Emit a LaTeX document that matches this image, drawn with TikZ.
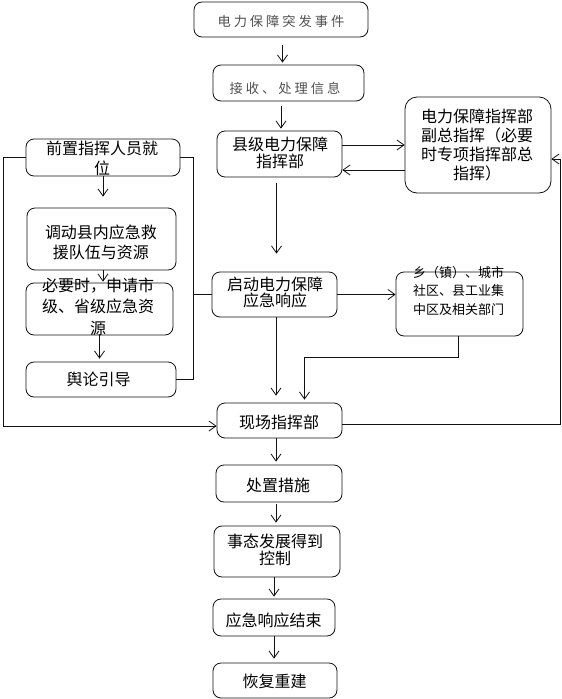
\documentclass[tikz,border=0pt]{standalone}
\usepackage{fontspec}
\setmainfont{Noto Sans CJK SC}
\newfontfamily\thinfont[LetterSpace=22]{Noto Sans CJK SC}
\usepackage{xcolor}
\usetikzlibrary{arrows.meta}
\definecolor{textgray}{HTML}{505050}
\definecolor{darkline}{HTML}{111111}

\begin{document}
\begin{tikzpicture}[x=1pt, y=-1pt,
  box/.style={draw=darkline, line width=0.8pt, rounded corners=8pt, inner sep=0pt},
  txt/.style={align=center, inner sep=0pt, font=\fontsize{16}{18}\selectfont},
  thin/.style={inner sep=0pt, text=textgray, font=\thinfont\fontsize{13.3}{15}\selectfont},
  arr/.style={draw=darkline, line width=0.8pt, -{Straight Barb[length=7pt,width=10pt]}},
  link/.style={draw=darkline, line width=0.8pt}]
\useasboundingbox (0,0) rectangle (562,699);

% centre column
\node[box, minimum width=174pt, minimum height=35pt] (ev) at (281,19.5) {};
\node[thin] (ev-t) at (281,21) {电力保障突发事件};
\node[box, minimum width=151pt, minimum height=36pt] (recv) at (288.5,83) {};
\node[thin] (recv-t) at (285,88) {接收、处理信息};
\node[box, minimum width=125pt, minimum height=46pt] (cmd) at (279.5,154) {};
\node[txt, font=\fontsize{16}{17}\selectfont] (cmd-t) at (280,153) {县级电力保障\\指挥部};
\node[box, minimum width=146pt, minimum height=96pt, rounded corners=12pt] (dep) at (478,145) {};
\node[txt, font=\fontsize{16}{18.7}\selectfont] (dep-t) at (477,145) {电力保障指挥部\\副总指挥（必要\\时专项指挥部总\\指挥）};

% left column
\node[box, minimum width=154pt, minimum height=37pt] (pre) at (103,157.5) {};
\node[txt, font=\fontsize{16}{20}\selectfont] (pre-t) at (102,158) {前置指挥人员就\\位};
\node[box, minimum width=149pt, minimum height=62pt] (team) at (101.5,239) {};
\node[txt, font=\fontsize{16}{20}\selectfont] (team-t) at (101,242) {调动县内应急救\\援队伍与资源};
\node[box, minimum width=147pt, minimum height=52pt] (req) at (99.5,309) {};
\node[txt, font=\fontsize{16}{21.5}\selectfont] (req-t) at (98,306.5) {必要时，申请市\\级、省级应急资\\源};
\node[box, minimum width=150pt, minimum height=35pt] (pub) at (101,379.5) {};
\node[txt] (pub-t) at (98.5,379) {舆论引导};

% response
\node[box, minimum width=125pt, minimum height=45pt] (start) at (274.5,294.5) {};
\node[txt, font=\fontsize{16}{14}\selectfont] (start-t) at (275,292) {启动电力保障\\应急响应};
\node[box, minimum width=127pt, minimum height=64pt] (town) at (459.5,304) {};
\node[txt, align=left, font=\fontsize{13}{18.5}\selectfont] (town-t) at (458.5,290.5) {乡（镇）、城市\\社区、县工业集\\中区及相关部门};
\node[box, minimum width=125pt, minimum height=35pt] (site) at (279.5,420.5) {};
\node[txt] (site-t) at (279,422) {现场指挥部};
\node[box, minimum width=126pt, minimum height=37pt] (act) at (279,483.5) {};
\node[txt] (act-t) at (278,485) {处置措施};
\node[box, minimum width=126pt, minimum height=51pt] (ctl) at (277,551.5) {};
\node[txt, font=\fontsize{16}{16.5}\selectfont] (ctl-t) at (275,550) {事态发展得到\\控制};
\node[box, minimum width=122pt, minimum height=37pt] (fin) at (274,617.5) {};
\node[txt] (fin-t) at (273.5,620) {应急响应结束};
\node[box, minimum width=124pt, minimum height=35pt] (rebuild) at (275,680.5) {};
\node[txt] (rebuild-t) at (274.5,681) {恢复重建};

\coordinate (lbr) at (193,157.5);
\coordinate (lout) at (3,157.5);
\coordinate (rout) at (560,424);

% connectors
\draw[arr, shorten <=8pt, shorten >=2pt] ([xshift=1.5pt]ev.south) -- ([xshift=1.5pt]ev.south |- recv.north);
\draw[arr, shorten <=5pt, shorten >=2pt] ([xshift=1.5pt]cmd.north |- recv.south) -- ([xshift=1.5pt]cmd.north);
\draw[arr] (cmd.east |- dep.west) -- (dep.west);
\draw[arr] ([yshift=-25pt]dep.west) -- ([yshift=-25pt]dep.west -| cmd.east);
\draw[arr, shorten <=6pt, shorten >=18pt] ([xshift=-3pt]cmd.south) -- ([xshift=-3pt]cmd.south |- start.north);
\draw[arr, shorten >=11pt] (pre.south) -- (pre.south |- team.north);
\draw[arr, shorten >=1pt] ([xshift=1.5pt]team.south) -- ([xshift=1.5pt]team.south |- req.north);
\draw[arr, shorten >=3pt] (req.south) -- (req.south |- pub.north);
\draw[link] (pre.east) -- (lbr) |- (pub.east);
\draw[link] (lbr |- start.west) -- (start.west);
\draw[arr] (pre.west) -- (lout) |- ([yshift=-5.5pt]site.west);
\draw[arr] (start.east) -- (start.east -| town.west);
\draw[arr, shorten >=7pt] ([xshift=1.5pt]start.south) -- ([xshift=1.5pt]start.south |- site.north);
\draw[arr, shorten >=3pt] ([xshift=-1.5pt]town.south) -- ++(0,21) -| ([xshift=25pt]site.north);
\draw[arr] ([yshift=-3.5pt]site.east) -- (rout) |- ([yshift=-14pt]dep.east);
\draw[arr, shorten >=3pt] ([xshift=-3.5pt]site.south) -- ([xshift=-3.5pt]site.south |- act.north);
\draw[arr, shorten <=2pt, shorten >=3pt] ([xshift=-3pt]act.south) -- ([xshift=-3pt]act.south |- ctl.north);
\draw[arr, shorten >=2pt] ([xshift=-3pt]ctl.south) -- ([xshift=-3pt]ctl.south |- fin.north);
\draw[arr, shorten >=4pt] (fin.south) -- (fin.south |- rebuild.north);
\end{tikzpicture}
\end{document}
